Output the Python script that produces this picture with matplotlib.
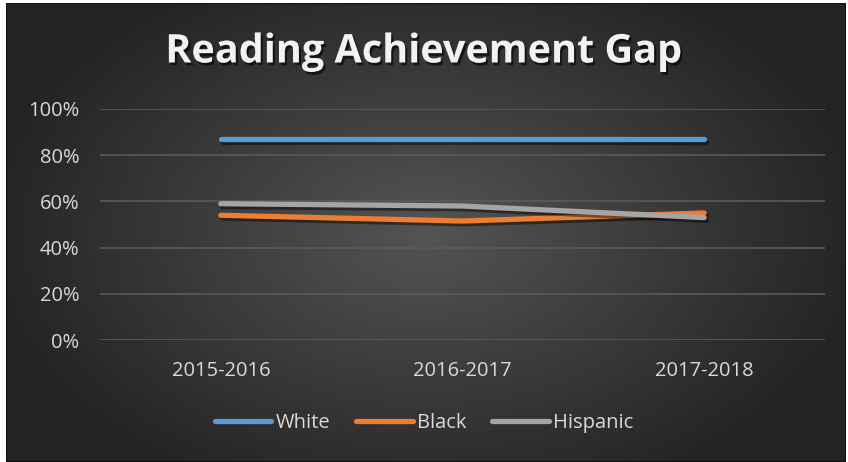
import numpy as np
import matplotlib
matplotlib.use("Agg")
import matplotlib.pyplot as plt
import matplotlib.patheffects as pe
from matplotlib.lines import Line2D
from matplotlib.ticker import PercentFormatter

years = ["2015-2016", "2016-2017", "2017-2018"]
white = [0.87, 0.87, 0.87]
black = [0.54, 0.515, 0.55]
hispanic = [0.59, 0.58, 0.53]

series_names = ["White", "Black", "Hispanic"]
series_colors = ["#5b9bd5", "#ed7d31", "#a5a5a5"]

plt.rcParams["font.family"] = ["Open Sans", "DejaVu Sans"]

fig = plt.figure(figsize=(8.48, 4.62), dpi=100, facecolor="white")

# background panel with radial gradient
bg = fig.add_axes([6 / 848, 0, 840 / 848, 459 / 462])
bg.set_axis_off()
yy, xx = np.mgrid[-1:1:300j, -1:1:500j]
r = np.sqrt((xx * 0.95) ** 2 + (yy * 0.8) ** 2)
shade = np.clip(0.33 - 0.19 * r, 0.14, 0.33)
bg.imshow(np.dstack([shade, shade, shade]), aspect="auto", extent=[0, 1, 0, 1])
bg.set_xlim(0, 1)
bg.set_ylim(0, 1)
bg.add_patch(plt.Rectangle((0, 0), 1, 1, fill=False, edgecolor="#111111", lw=1.5))

ax = fig.add_axes([100 / 848, 1 - 340 / 462, 725 / 848, 231 / 462])
ax.patch.set_alpha(0)
x = np.arange(len(years))

shadow = [pe.SimpleLineShadow(offset=(1.5, -2), shadow_color="black", alpha=0.45), pe.Normal()]
for vals, name, col in zip([white, black, hispanic], series_names, series_colors):
    ax.plot(x, vals, color=col, lw=3.8, solid_capstyle="round", solid_joinstyle="round",
            label=name, path_effects=shadow, zorder=3)

ax.set_xlim(-0.5, 2.5)
ax.set_ylim(0, 1)
ax.set_yticks(np.arange(0, 1.01, 0.2))
ax.yaxis.set_major_formatter(PercentFormatter(1.0, decimals=0))
ax.set_xticks(x)
ax.set_xticklabels(years)
ax.grid(axis="y", color="#5a5a5a", lw=1.2, zorder=0)
for s in ax.spines.values():
    s.set_visible(False)
ax.tick_params(length=0, colors="#d9d9d9", labelsize=14.5)
ax.tick_params(axis="x", pad=15)
ax.tick_params(axis="y", pad=15)

fig.text(0.5, 1 - 52 / 462, "Reading Achievement Gap", ha="center", va="center",
         fontsize=28.5, fontweight="bold", color="#f2f2f2",
         path_effects=[pe.withSimplePatchShadow(offset=(1.5, -2), shadow_rgbFace="black", alpha=0.6)])

handles = [Line2D([0], [0], color=c, lw=3.8, solid_capstyle="round") for c in series_colors]
fig.legend(handles, series_names, loc="center", bbox_to_anchor=(0.5, 1 - 423 / 462),
           ncol=3, frameon=False, fontsize=14.5, labelcolor="#d9d9d9",
           handlelength=2.8, handletextpad=0.2, columnspacing=1.3)

fig.savefig("out.png", dpi=100, facecolor="white")
